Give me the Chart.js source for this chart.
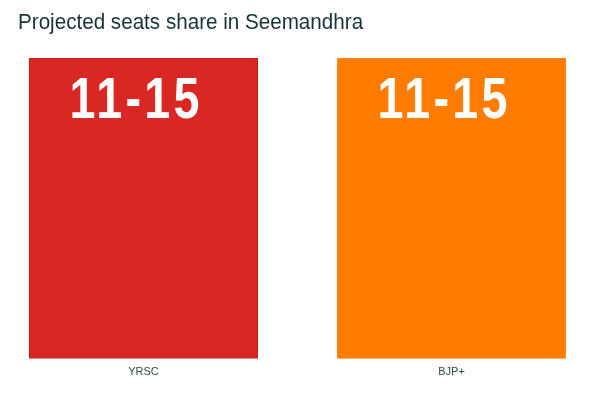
<!DOCTYPE html>
<html lang="en">
<head>
    <meta charset="UTF-8">
    <title>Projected seats share in Seemandhra</title>
    <script src="https://cdn.jsdelivr.net/npm/chart.js"></script>
    <style>
        html, body { margin: 0; padding: 0; background: #fff; }
        #wrap { position: relative; width: 600px; height: 400px; }
        #title {
            position: absolute; left: 18px; top: 9px;
            font-family: "Liberation Sans", Arial, sans-serif;
            font-size: 22px; color: #17333a; white-space: nowrap;
            transform-origin: 0 0;
        }
        canvas { position: absolute; left: 0; top: 0; }
    </style>
</head>
<body>
<div id="wrap">
    <canvas id="chart" width="600" height="400"></canvas>
    <div id="title">Projected seats share in Seemandhra</div>
</div>
<script>
    // data
    const parties = ['YRSC', 'BJP+'];
    const seatsLow = [11, 11];
    const seatsHigh = [15, 15];
    const barColors = ['#d92723', '#ff7c00'];
    const barEdges = ['#c91b17', '#ff8a14'];

    // stretch title to the width it has in the picture
    const titleEl = document.getElementById('title');
    titleEl.style.transform = 'scaleX(' + (345 / titleEl.offsetWidth) + ')';

    // range text on top of each bar
    const rangeLabels = {
        id: 'rangeLabels',
        afterDatasetsDraw(chart) {
            const ctx = chart.ctx;
            const meta = chart.getDatasetMeta(0);
            ctx.save();
            ctx.fillStyle = '#ffffff';
            ctx.textBaseline = 'alphabetic';
            ctx.textAlign = 'left';
            ctx.font = 'bold 57px "Liberation Sans", Arial, sans-serif';
            ctx.letterSpacing = '4px';
            meta.data.forEach((bar, i) => {
                const txt = seatsLow[i] + '-' + seatsHigh[i];
                const w = ctx.measureText(txt).width - 4;
                const sx = 130 / w;
                ctx.save();
                ctx.translate(bar.x - 9 - 65, bar.y + 60);
                ctx.scale(sx, 1);
                ctx.fillText(txt, 0, 0);
                ctx.restore();
            });
            ctx.restore();
        }
    };

    new Chart(document.getElementById('chart'), {
        type: 'bar',
        data: {
            labels: parties,
            datasets: [{
                data: seatsHigh,
                backgroundColor: barColors,
                borderColor: barEdges,
                borderWidth: 1,
                categoryPercentage: 1,
                barPercentage: 0.7435,
                clip: false
            }]
        },
        options: {
            responsive: false,
            animation: false,
            layout: { padding: { left: 143.5, right: 148.5, top: 58, bottom: 14 } },
            plugins: {
                legend: { display: false },
                title: { display: false },
                tooltip: { enabled: false }
            },
            scales: {
                x: {
                    offset: false,
                    grid: { display: false, drawTicks: false },
                    border: { display: false },
                    ticks: {
                        padding: 7,
                        color: '#2e4a4a',
                        font: { family: '"Liberation Sans", Arial, sans-serif', size: 11 }
                    }
                },
                y: {
                    display: false,
                    min: 0,
                    max: 15
                }
            }
        },
        plugins: [rangeLabels]
    });
</script>
</body>
</html>
